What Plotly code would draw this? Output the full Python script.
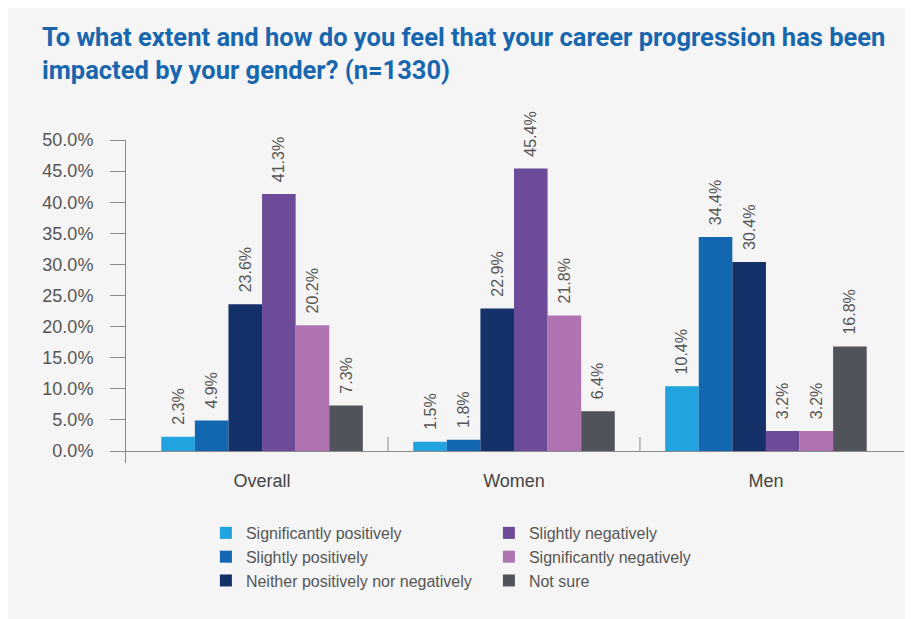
import plotly.graph_objects as go

categories = ["Overall", "Women", "Men"]
series_names = [
    "Significantly positively",
    "Slightly positively",
    "Neither positively nor negatively",
    "Slightly negatively",
    "Significantly negatively",
    "Not sure",
]
values_sig_pos = [2.3, 1.5, 10.4]
values_sli_pos = [4.9, 1.8, 34.4]
values_neither = [23.6, 22.9, 30.4]
values_sli_neg = [41.3, 45.4, 3.2]
values_sig_neg = [20.2, 21.8, 3.2]
values_not_sure = [7.3, 6.4, 16.8]
series_values = [values_sig_pos, values_sli_pos, values_neither,
                 values_sli_neg, values_sig_neg, values_not_sure]
colors = ["#21a3df", "#1366b0", "#14316a", "#6c4c99", "#ae73b0", "#505359"]
legend_ranks = [1, 3, 5, 2, 4, 6]
y_tick_values = [0, 5, 10, 15, 20, 25, 30, 35, 40, 45, 50]
y_tick_labels = [f"{v:.1f}%" for v in y_tick_values]

BG = "#f5f5f5"
GRAY_TXT = "#555555"
AXIS = "#8a8a8a"

fig = go.Figure()
for name, vals, col, rank in zip(series_names, series_values, colors, legend_ranks):
    fig.add_trace(go.Bar(
        name=name, x=categories, y=vals,
        marker=dict(color=col, line=dict(width=0)),
        text=["\u00a0\u00a0" + f"{v:.1f}%" for v in vals],
        textposition="outside", textangle=-90,
        textfont=dict(family="Liberation Sans, Arial, sans-serif", size=16, color=GRAY_TXT),
        cliponaxis=False, constraintext="none",
        legendrank=rank,
        hoverinfo="skip",
    ))

shapes = []
for b in [0.5, 1.5]:
    shapes.append(dict(type="line", xref="x", yref="y", x0=b, x1=b, y0=0, y1=2.25,
                       line=dict(color=AXIS, width=1)))

fig.update_layout(
    width=905, height=611,
    margin=dict(l=118, r=9, t=132, b=156),
    paper_bgcolor=BG, plot_bgcolor=BG,
    barmode="group", bargap=0.2, bargroupgap=0,
    shapes=shapes,
    title=dict(
        text="To what extent and how do you feel that your career progression has been<br>impacted by your gender? (n=1330)",
        font=dict(family="Roboto, Arial, sans-serif", size=25.5, color="#1867ae", weight=700),
        xref="container", yref="container", x=34/905, xanchor="left",
        y=1 - 38/611, yanchor="top",
    ),
    xaxis=dict(
        range=[-0.54, 2.548], showline=False, ticks="", showgrid=False, zeroline=False,
        ticklabelstandoff=5,
        tickfont=dict(family="Liberation Sans, Arial, sans-serif", size=18, color="#444444"),
    ),
    yaxis=dict(
        range=[-1.93, 50], tickvals=y_tick_values, ticktext=y_tick_labels,
        showline=True, linecolor=AXIS, linewidth=1,
        ticks="outside", ticklen=15, tickcolor=AXIS, tickwidth=1,
        ticklabelstandoff=13,
        showgrid=False, zeroline=True, zerolinecolor=AXIS, zerolinewidth=1,
        tickfont=dict(family="Liberation Sans, Arial, sans-serif", size=18, color=GRAY_TXT),
    ),
    showlegend=True,
    legend=dict(
        orientation="h", x=0.1027, xanchor="left", y=-0.164, yanchor="top",
        entrywidth=238, entrywidthmode="pixels",
        font=dict(family="Liberation Sans, Arial, sans-serif", size=16, color=GRAY_TXT),
        bgcolor="rgba(0,0,0,0)", tracegroupgap=0, traceorder="normal",
    ),
)

fig.write_html("out.html")
